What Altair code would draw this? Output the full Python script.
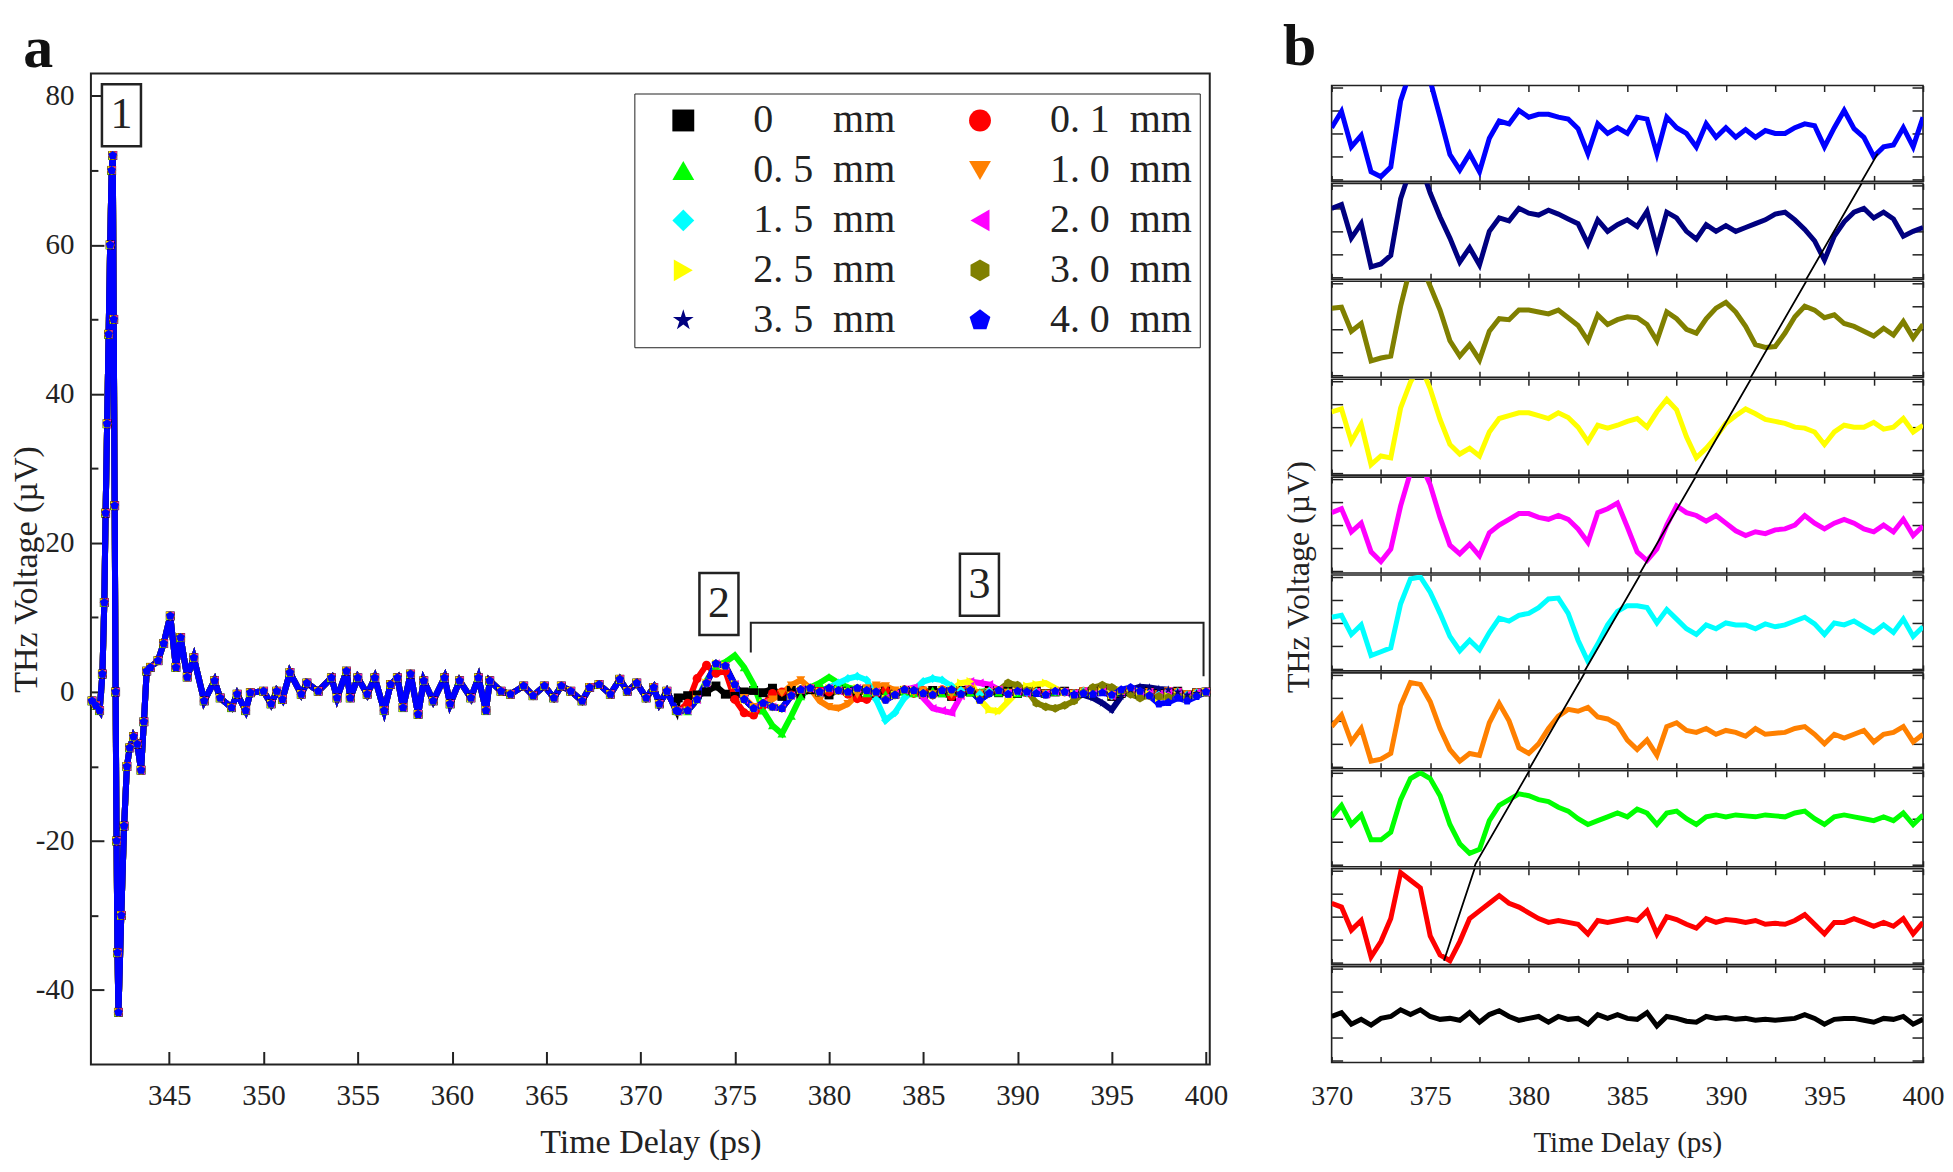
import altair as alt
import pandas as pd

FONT = "Liberation Serif"
INK = "#222222"

# ---------------- series definitions ----------------
LABELS = ["0\u00a0\u00a0\u00a0\u00a0\u00a0\u00a0mm", "0.\u00a01\u00a0\u00a0mm", "0.\u00a05\u00a0\u00a0mm",
          "1.\u00a00\u00a0\u00a0mm", "1.\u00a05\u00a0\u00a0mm", "2.\u00a00\u00a0\u00a0mm",
          "2.\u00a05\u00a0\u00a0mm", "3.\u00a00\u00a0\u00a0mm", "3.\u00a05\u00a0\u00a0mm",
          "4.\u00a00\u00a0\u00a0mm"]
COLORS = ["#000000", "#ff0000", "#00ff00", "#ff8000", "#00ffff",
          "#ff00ff", "#ffff00", "#808000", "#000080", "#0000ff"]
HEX = "M0,-1L0.866,-0.5L0.866,0.5L0,1L-0.866,0.5L-0.866,-0.5Z"
STAR = ("M0,-1L0.223,-0.307L0.951,-0.309L0.361,0.117L0.588,0.809L0,0.38L-0.588,0.809"
        "L-0.361,0.117L-0.951,-0.309L-0.223,-0.307Z")
PENT = "M0,-1L0.951,-0.309L0.588,0.809L-0.588,0.809L-0.951,-0.309Z"
SHAPES = ["square", "circle", "triangle-up", "triangle-down", "diamond",
          "triangle-left", "triangle-right", HEX, STAR, PENT]
# legend fills column by column; this order makes it read row by row (0 | 0.1, 0.5 | 1.0, ...)
LEGEND_ORDER = [0, 2, 4, 6, 8, 1, 3, 5, 7, 9]

# ---------------- panel a data ----------------
T_MAIN = [340.9, 341.1, 341.3, 341.45, 341.55, 341.62, 341.7, 341.78, 341.86, 341.94, 342.0,
          342.05, 342.1, 342.15, 342.2, 342.25, 342.3, 342.45, 342.6, 342.75, 342.9, 343.1,
          343.3, 343.5, 343.65, 343.8, 344.0, 344.4, 344.7, 345.05, 345.35, 345.6, 345.95,
          346.3, 346.85, 347.4, 347.7, 348.3, 348.6, 349.05, 349.3, 350.0, 350.4, 350.7,
          351.0, 351.4, 352.0, 352.3, 352.9, 353.6, 353.9, 354.4, 354.6, 355.0, 355.5,
          355.9, 356.4, 356.74, 357.1, 357.4, 357.8, 358.2, 358.5, 359.0, 359.6, 359.9,
          360.4, 361.0, 361.4, 361.8, 362.0, 362.6, 363.1, 363.8, 364.3, 364.9, 365.4,
          365.8, 366.3, 366.9, 367.3, 367.8, 368.4, 368.9, 369.3, 369.8, 370.3, 370.7,
          371.0, 371.4, 371.9]
V_MAIN = [-1.2, -1.8, -2.5, 2.4, 12, 24, 36, 48, 60, 70, 72,
          50, 25, 0, -20, -35, -43, -30, -18, -10, -7.5, -6,
          -7, -10.5, -4, 2.8, 3.3, 4.2, 6.5, 10.2, 3.3, 7.3, 2.0,
          4.6, -1.2, 1.5, -0.8, -2.1, -0.3, -2.5, -0.1, 0.1, -1.6, 0.1,
          -1.0, 2.6, -0.3, 1.2, 0.1, 1.9, -0.8, 2.8, -0.8, 1.9, -0.3,
          1.9, -2.5, 1.0, 1.9, -2.1, 2.4, -3.0, 1.5, -1.2, 1.9, -1.6,
          1.5, -0.8, 1.9, -2.5, 1.5, 0.1, -0.3, 0.8, -0.5, 0.8, -0.8,
          0.8, 0.1, -1.2, 0.6, 1.0, -0.3, 1.7, 0.1, 1.2, -0.8, 0.6,
          -1.6, 0.1, -2.5]

T_ECHO = [372.0, 372.5, 373.0, 373.5, 374.0, 374.5, 375.0, 375.5, 376.0, 376.5,
          377.0, 377.5, 378.0, 378.5, 379.0, 379.5, 380.0, 380.5, 381.0, 381.5,
          382.0, 382.5, 383.0, 383.5, 384.0, 384.5, 385.0, 385.5, 386.0, 386.5,
          387.0, 387.5, 388.0, 388.5, 389.0, 389.5, 390.0, 390.5, 391.0, 391.5,
          392.0, 392.5, 393.0, 393.5, 394.0, 394.5, 395.0, 395.5, 396.0, 396.5,
          397.0, 397.5, 398.0, 398.5, 399.0, 399.5, 400.0]

E_BLACK = [-0.8, -0.5, -0.4, 0.0, 0.8, -0.3, -0.6, 0.0, 0.2, -0.1,
           0.5, -0.6, 0.2, -0.3, 0.3, 0.0, -0.4, 0.3, 0.1, -0.2,
           0.3, -0.2, 0.1, -0.3, 0.2, 0.0, -0.3, 0.2, -0.1, -0.6,
           0.2, 0.0, -0.3, 0.2, -0.1, 0.1, -0.2, 0.0, 0.1, -0.2,
           0.0, 0.1, -0.2, 0.0, 0.1, 0.3, -0.6, -0.2, 0.1, -0.3,
           0.1, -0.2, 0.0, 0.1, -0.4, -0.1, 0.0]
E_RED = [-2.6, -1.5, 1.8, 3.6, 2.5, 2.8, -1.0, -2.8, -3.1, -1.8,
         -0.2, 0.0, -0.4, 0.3, 0.5, 0.3, 0.0, 0.3, -0.3, -0.9,
         -1.0, -0.2, 0.2, -0.2, 0.3, -0.2, 0.2, -0.4, 0.3, -0.6,
         0.1, 0.3, -0.3, 0.0, 0.2, -0.2, 0.1, -0.1, 0.0, -0.3,
         0.1, 0.0, -0.2, 0.1, 0.0, 0.2, -0.5, -0.1, 0.2, -0.2,
         0.0, -0.3, 0.1, 0.0, -0.4, -0.1, 0.0]
E_GREEN = [-2.6, -2.6, -1.0, 1.5, 3.5, 4.0, 4.9, 3.3, 1.0, -2.5,
           -4.5, -5.6, -3.2, -0.6, 0.6, 1.2, 2.0, 1.2, 0.6, 0.3,
           -0.2, 0.1, -0.3, 0.2, 0.0, -0.2, 0.1, 0.2, -0.2, 0.0,
           0.2, -0.1, 0.0, 0.2, -0.1, 0.1, -0.2, 0.0, 0.1, -0.2,
           0.0, 0.1, -0.2, 0.0, 0.1, 0.2, -0.4, -0.1, 0.1, -0.2,
           0.1, -0.2, 0.0, 0.1, -0.3, -0.1, 0.0]
E_ORANGE = [-2.6, -2.5, -1.0, 1.2, 3.6, 3.5, 1.0, -0.8, -2.0, -1.6,
            -1.0, -0.2, 0.9, 1.6, 0.5, -1.2, -2.0, -2.2, -1.6, -0.4,
            0.5, 0.9, 0.8, 0.2, 0.1, -0.2, 0.2, -0.3, 0.2, -0.4,
            0.1, 0.2, -0.2, 0.0, 0.2, -0.1, 0.1, 0.0, -0.1, -0.2,
            0.1, 0.0, -0.2, 0.1, 0.0, 0.2, -0.4, -0.1, 0.1, -0.2,
            0.0, -0.3, 0.1, 0.0, -0.3, -0.1, 0.0]
E_CYAN = [-2.6, -2.5, -1.0, 1.2, 3.8, 3.5, 1.0, -1.0, -2.2, -1.5,
          -2.0, -2.2, -0.5, 0.3, 0.5, 0.0, 0.6, 1.2, 1.8, 2.1,
          1.6, -1.0, -3.8, -2.8, -0.8, 0.3, 1.4, 1.8, 1.6, 0.8,
          0.2, 0.3, -0.3, 0.1, 0.2, -0.2, 0.1, -0.1, 0.0, -0.3,
          0.1, 0.0, -0.2, 0.1, 0.0, 0.2, -0.5, -0.1, 0.2, -0.2,
          0.0, -0.3, 0.1, 0.0, -0.4, -0.1, 0.0]
E_MAGENTA = [-2.6, -2.5, -1.0, 1.2, 3.8, 3.5, 1.0, -1.0, -2.2, -1.5,
             -2.0, -2.2, -0.5, 0.3, 0.5, 0.0, 0.5, 0.2, 0.0, 0.5,
             0.2, 0.0, -0.8, -0.3, 0.3, 0.6, -0.8, -2.2, -2.5, -2.8,
             -0.5, 1.4, 1.2, 1.0, 0.3, -0.2, 0.1, -0.1, 0.0, -0.3,
             0.1, 0.0, -0.2, 0.1, 0.0, 0.2, -0.5, -0.1, 0.2, -0.2,
             0.0, -0.3, 0.1, 0.0, -0.4, -0.1, 0.0]
E_YELLOW = [-2.6, -2.5, -1.0, 1.2, 3.8, 3.5, 1.0, -1.0, -2.2, -1.5,
            -2.0, -2.2, -0.5, 0.3, 0.5, 0.0, 0.5, 0.2, 0.0, 0.5,
            0.2, 0.0, -0.9, -0.4, 0.3, 0.2, -0.2, -0.4, 0.2, 0.3,
            1.2, 1.4, -1.0, -2.4, -2.6, -1.3, 0.0, 0.8, 1.0, 1.2,
            0.5, 0.0, -0.3, -0.1, -0.2, 0.1, -0.4, 0.2, 0.4, 0.0,
            -0.3, -0.8, -0.6, -0.4, -0.8, -0.4, 0.0]
E_OLIVE = [-2.6, -2.5, -1.0, 1.2, 3.8, 3.5, 1.0, -1.0, -2.2, -1.5,
           -2.0, -2.2, -0.5, 0.3, 0.5, 0.0, 0.5, 0.2, 0.0, 0.5,
           0.2, 0.0, -1.0, -0.4, 0.3, 0.2, -0.2, -0.4, 0.2, 0.3,
           -0.3, 0.2, -1.0, -0.2, 0.2, 1.2, 0.9, 0.2, -1.5, -2.0,
           -2.2, -1.8, -1.2, -0.1, 0.6, 0.9, 0.6, 0.1, -0.3, -0.8,
           -0.5, -0.6, -0.7, -0.5, -0.8, -0.4, 0.0]
E_NAVY = [-2.6, -2.5, -1.0, 1.2, 3.8, 3.5, 1.0, -1.0, -2.2, -1.5,
          -2.0, -2.2, -0.5, 0.3, 0.5, 0.0, 0.5, 0.2, 0.0, 0.5,
          0.2, 0.0, -1.0, -0.4, 0.3, 0.2, -0.2, -0.4, 0.2, 0.3,
          -0.3, 0.2, -1.0, -0.2, 0.2, -0.3, 0.1, 0.0, -0.2, -0.4,
          0.1, 0.0, -0.2, -0.4, -0.8, -1.5, -2.4, -0.6, 0.3, 0.7,
          0.6, 0.4, 0.3, 0.0, -0.4, -0.2, 0.0]
E_BLUE = [-2.6, -2.5, -1.0, 1.2, 3.8, 3.5, 1.0, -1.0, -2.2, -1.5,
          -2.0, -2.2, -0.5, 0.3, 0.5, 0.0, 0.5, 0.2, 0.0, 0.5,
          0.2, 0.0, -1.1, -0.4, 0.3, 0.2, -0.2, -0.4, 0.2, 0.3,
          -0.3, 0.2, -1.1, -0.2, 0.2, -0.3, 0.1, 0.0, -0.2, -0.4,
          0.1, 0.0, -0.4, -0.2, -0.3, -0.1, -0.4, 0.3, 0.6, 0.1,
          -0.5, -1.6, -1.4, -0.8, -1.2, -0.6, 0.0]
ECHO = [E_BLACK, E_RED, E_GREEN, E_ORANGE, E_CYAN, E_MAGENTA, E_YELLOW, E_OLIVE, E_NAVY, E_BLUE]

BOX_X = [342.46, 374.16, 387.98]
BOX_Y = [77.4, 11.8, 14.4]
BOX_TXT = ["1", "2", "3"]
BRACKET_X = [375.85, 375.85, 399.87, 399.87]
BRACKET_Y = [5.3, 9.3, 9.3, 2.1]

# ---------------- panel b data ----------------
T_B = [370.0, 370.5, 371.0, 371.5, 372.0, 372.5, 373.0, 373.5, 374.0, 374.5,
       375.0, 375.5, 376.0, 376.5, 377.0, 377.5, 378.0, 378.5, 379.0, 379.5,
       380.0, 380.5, 381.0, 381.5, 382.0, 382.5, 383.0, 383.5, 384.0, 384.5,
       385.0, 385.5, 386.0, 386.5, 387.0, 387.5, 388.0, 388.5, 389.0, 389.5,
       390.0, 390.5, 391.0, 391.5, 392.0, 392.5, 393.0, 393.5, 394.0, 394.5,
       395.0, 395.5, 396.0, 396.5, 397.0, 397.5, 398.0, 398.5, 399.0, 399.5, 400.0]
B_BLACK = [4.8, 5.2, 4.0, 4.5, 3.9, 4.6, 4.8, 5.5, 5.0, 5.5,
           4.8, 4.5, 4.6, 4.4, 5.2, 4.2, 5.0, 5.4, 4.8, 4.4,
           4.6, 4.8, 4.2, 4.8, 4.5, 4.6, 4.0, 5.0, 4.6, 5.0,
           4.6, 4.5, 5.2, 3.8, 4.8, 4.6, 4.3, 4.2, 4.8, 4.6,
           4.7, 4.5, 4.6, 4.4, 4.5, 4.4, 4.5, 4.6, 5.0, 4.6,
           4.0, 4.5, 4.6, 4.6, 4.4, 4.2, 4.6, 4.5, 4.8, 4.0, 4.5]
B_RED = [6.4, 6.0, 3.6, 4.6, 0.8, 2.4, 4.8, 9.6, 8.8, 8.0,
         3.0, 1.0, 0.4, 2.4, 4.8, 5.6, 6.4, 7.2, 6.4, 6.0,
         5.4, 4.8, 4.4, 4.6, 4.4, 4.2, 3.2, 4.6, 4.4, 4.6,
         4.8, 4.6, 5.6, 3.2, 5.0, 4.7, 4.2, 3.8, 4.8, 4.4,
         4.7, 4.6, 4.4, 4.6, 4.2, 4.3, 4.2, 4.6, 5.2, 4.2,
         3.2, 4.4, 4.4, 4.8, 4.4, 4.0, 4.4, 4.0, 4.8, 3.2, 4.4]
B_GREEN = [5.2, 6.4, 4.4, 5.4, 2.8, 2.8, 3.6, 7.0, 9.2, 9.8,
           9.2, 7.4, 4.4, 2.4, 1.4, 1.8, 4.8, 6.4, 7.0, 7.6,
           7.4, 7.0, 6.8, 6.2, 5.8, 5.0, 4.4, 4.8, 5.2, 5.6,
           5.2, 6.0, 5.6, 4.4, 5.6, 5.8, 5.0, 4.4, 5.2, 5.4,
           5.2, 5.4, 5.3, 5.2, 5.4, 5.3, 5.2, 5.6, 5.8, 5.0,
           4.4, 5.2, 5.4, 5.2, 5.0, 4.8, 5.2, 4.8, 5.6, 4.4, 5.4]
B_ORANGE = [4.4, 5.6, 2.8, 4.2, 0.8, 1.0, 1.6, 6.6, 9.0, 8.8,
            7.0, 4.2, 2.0, 0.8, 1.6, 1.4, 4.8, 6.8, 5.0, 2.2,
            1.6, 2.6, 4.2, 5.5, 6.2, 6.0, 6.4, 5.4, 5.2, 4.6,
            3.0, 2.0, 3.0, 1.4, 4.4, 4.8, 4.0, 3.8, 4.2, 3.6,
            4.0, 3.8, 3.4, 4.2, 3.6, 3.7, 3.8, 4.2, 4.4, 3.6,
            2.6, 3.6, 3.2, 3.6, 4.0, 2.8, 3.6, 3.8, 4.4, 2.8, 3.6]
B_CYAN = [5.6, 5.8, 3.8, 4.8, 1.6, 2.0, 2.4, 7.0, 9.6, 9.8,
          8.2, 6.0, 3.6, 2.1, 3.2, 2.2, 4.0, 5.5, 5.2, 5.8,
          6.0, 6.6, 7.5, 7.6, 6.0, 3.2, 1.0, 2.8, 4.8, 6.2,
          6.8, 6.8, 6.6, 5.0, 6.4, 5.4, 4.4, 3.8, 4.8, 4.4,
          5.0, 4.8, 4.8, 4.4, 4.9, 4.6, 4.8, 5.2, 5.6, 4.9,
          3.8, 5.0, 4.8, 5.2, 4.6, 4.0, 4.8, 4.0, 5.4, 3.6, 4.6]
B_MAGENTA = [6.3, 6.7, 4.3, 5.2, 2.2, 1.2, 2.5, 7.0, 10.5, 11.5,
             9.2, 5.8, 2.9, 2.0, 3.0, 1.8, 4.2, 5.0, 5.6, 6.2,
             6.2, 5.8, 5.6, 6.0, 5.6, 4.6, 3.2, 6.3, 6.7, 7.3,
             4.8, 2.2, 1.3, 2.5, 5.0, 7.0, 6.3, 6.0, 5.4, 6.0,
             5.2, 4.4, 3.9, 4.3, 4.1, 4.5, 4.6, 5.0, 6.0, 5.2,
             4.6, 5.2, 5.6, 5.2, 4.6, 4.3, 5.0, 4.3, 5.6, 3.9, 4.9]
B_YELLOW = [6.6, 6.9, 3.5, 5.3, 1.1, 2.0, 1.8, 7.0, 9.7, 11.5,
            9.0, 5.8, 3.2, 2.2, 2.8, 2.0, 4.5, 5.9, 6.2, 6.5,
            6.5, 6.2, 5.9, 6.5, 6.0, 5.0, 3.5, 5.2, 4.9, 5.2,
            5.6, 5.9, 5.0, 6.6, 7.9, 6.8, 4.0, 1.8, 2.8, 4.0,
            5.4, 6.2, 6.9, 6.4, 5.8, 5.6, 5.4, 5.0, 4.9, 4.5,
            3.2, 4.5, 5.2, 5.0, 5.0, 5.5, 4.8, 5.0, 5.9, 4.5, 5.2]
B_OLIVE = [7.2, 7.3, 4.8, 5.6, 1.7, 2.0, 2.2, 7.4, 11.5, 12.0,
           9.5, 7.0, 3.8, 2.2, 3.4, 1.8, 4.8, 6.1, 6.0, 7.0,
           7.0, 6.8, 6.6, 7.0, 6.2, 5.4, 3.8, 6.5, 5.5, 6.0,
           6.3, 6.2, 5.5, 3.8, 6.8, 6.1, 5.0, 4.6, 6.1, 7.2,
           7.8, 6.8, 5.3, 3.4, 3.1, 3.2, 4.6, 6.3, 7.4, 7.0,
           6.2, 6.5, 5.6, 5.3, 4.8, 4.3, 5.1, 4.4, 5.8, 4.1, 5.5]
B_NAVY = [7.4, 7.8, 4.3, 5.8, 1.3, 1.6, 2.5, 8.4, 11.5, 12.0,
          9.0, 6.5, 4.3, 1.8, 3.3, 1.5, 5.0, 6.4, 6.1, 7.4,
          6.9, 6.7, 7.2, 6.8, 6.3, 5.8, 3.7, 6.2, 5.0, 5.7,
          6.2, 5.5, 7.1, 3.3, 7.0, 6.4, 5.0, 4.2, 5.7, 5.0,
          5.6, 5.0, 5.4, 5.8, 6.2, 6.8, 7.0, 6.2, 5.2, 4.0,
          2.0, 4.5, 6.0, 7.0, 7.4, 6.4, 7.0, 6.3, 4.5, 5.0, 5.4]
B_BLUE = [5.6, 7.3, 3.6, 4.8, 1.0, 0.5, 1.5, 8.4, 11.5, 12.0,
          10.5, 6.7, 2.8, 1.2, 2.9, 1.0, 4.5, 6.3, 6.0, 7.4,
          6.7, 7.0, 7.0, 6.7, 6.5, 5.5, 2.9, 6.0, 5.0, 5.6,
          5.0, 6.7, 6.5, 2.9, 6.7, 5.6, 5.0, 3.6, 6.0, 4.6,
          5.6, 4.6, 5.4, 4.6, 5.3, 5.0, 5.0, 5.6, 6.0, 5.8,
          3.6, 5.6, 7.4, 5.5, 4.6, 2.6, 3.6, 3.8, 5.6, 3.6, 6.7]
BTRACES = [B_BLACK, B_RED, B_GREEN, B_ORANGE, B_CYAN, B_MAGENTA, B_YELLOW, B_OLIVE, B_NAVY, B_BLUE]
DIAG_T = [375.7, 377.3, 397.7]
DIAG_G = [10.4, 20.3, 92.9]   # stacked-band coordinate (10 units per band)

XT_A = [345, 350, 355, 360, 365, 370, 375, 380, 385, 390, 395, 400]
YT_A = [-40, -20, 0, 20, 40, 60, 80]
YT_A_MINOR = [-30, -10, 10, 30, 50, 70]
XT_B = [370, 372.5, 375, 377.5, 380, 382.5, 385, 387.5, 390, 392.5, 395, 397.5, 400]
YT_B = [0.2, 2.6, 5.0, 7.4, 9.8]

VIEW = alt.ViewBackground(stroke=INK, strokeWidth=2, fill="white")
VIEW_B = alt.ViewBackground(stroke=INK, strokeWidth=1.6, fill="white")

# ---------------- panel a ----------------
rows = []
for k, lab in enumerate(LABELS):
    for t, v in zip(T_MAIN, V_MAIN):
        rows.append((lab, k, t, v))
    for t, v in zip(T_ECHO, ECHO[k]):
        rows.append((lab, k, t, v))
dfa = pd.DataFrame(rows, columns=["series", "order", "t", "v"])

xsa = alt.Scale(domain=[340.84, 400.2], nice=False, zero=False)
ysa = alt.Scale(domain=[-50, 83], nice=False, zero=False)
color_scale = alt.Scale(domain=[LABELS[i] for i in LEGEND_ORDER], range=[COLORS[i] for i in LEGEND_ORDER])
shape_scale = alt.Scale(domain=[LABELS[i] for i in LEGEND_ORDER], range=[SHAPES[i] for i in LEGEND_ORDER])

x_axis_a = alt.Axis(orient="bottom", values=XT_A, offset=-13, tickSize=13, tickWidth=2, tickColor=INK,
                    domain=False, grid=False, labelFont=FONT, labelFontSize=29, labelColor=INK,
                    labelPadding=17, labelFlush=False, title="Time Delay (ps)", titleFont=FONT,
                    titleFontSize=34, titleFontWeight="normal", titleColor=INK, titlePadding=15)
y_axis_a = alt.Axis(orient="left", values=YT_A, offset=-13, tickSize=13, tickWidth=2, tickColor=INK,
                    domain=False, grid=False, labelFont=FONT, labelFontSize=29, labelColor=INK,
                    labelPadding=17, labelFlush=False,
                    labelExpr="replace(datum.label, '\u2212', '-')",
                    title="THz Voltage (\u00b5V)", titleFont=FONT,
                    titleFontSize=34, titleFontWeight="normal", titleColor=INK, titlePadding=-8)
y_axis_minor = alt.Axis(orient="left", values=YT_A_MINOR, offset=-7, tickSize=7, tickWidth=2,
                        tickColor=INK, domain=False, grid=False, labels=False, title=None)

legend = alt.Legend(title=None, orient="none", legendX=544, legendY=20, columns=2,
                    symbolSize=480, symbolStrokeWidth=0, symbolOffset=22,
                    labelFont=FONT, labelFontSize=40, labelColor=INK, labelOffset=50,
                    padding=7, rowPadding=10, columnPadding=42,
                    strokeColor=INK, fillColor="white")

base_a = alt.Chart(dfa)
lines_a = base_a.mark_line(strokeWidth=6).encode(
    x=alt.X("t:Q", scale=xsa, axis=x_axis_a),
    y=alt.Y("v:Q", scale=ysa, axis=y_axis_a),
    color=alt.Color("series:N", scale=color_scale, legend=None),
)
points_a = base_a.mark_point(filled=True, size=80, opacity=1).encode(
    x=alt.X("t:Q", scale=xsa, axis=None),
    y=alt.Y("v:Q", scale=ysa, axis=None),
    color=alt.Color("series:N", scale=color_scale, legend=legend),
    shape=alt.Shape("series:N", scale=shape_scale, legend=legend),
    order=alt.Order("order:Q"),
)
df_br = pd.DataFrame({"x": BRACKET_X, "y": BRACKET_Y, "i": list(range(len(BRACKET_X)))})
bracket = alt.Chart(df_br).mark_line(color=INK, strokeWidth=2).encode(
    x=alt.X("x:Q", scale=xsa, axis=None),
    y=alt.Y("y:Q", scale=ysa, axis=y_axis_minor),
    order=alt.Order("i:Q"),
)
df_box = pd.DataFrame({"x": BOX_X, "y": BOX_Y, "txt": BOX_TXT})
RECT = "M-0.63,-1L0.63,-1L0.63,1L-0.63,1Z"
boxes = alt.Chart(df_box).mark_point(shape=RECT, size=3844, filled=True, fill="white",
                                     stroke=INK, strokeWidth=2.5, opacity=1).encode(
    x=alt.X("x:Q", scale=xsa, axis=None),
    y=alt.Y("y:Q", scale=ysa, axis=None),
)
texts = alt.Chart(df_box).mark_text(font=FONT, fontSize=44, color=INK, align="center",
                                    baseline="middle").encode(
    x=alt.X("x:Q", scale=xsa, axis=None),
    y=alt.Y("y:Q", scale=ysa, axis=None),
    text="txt:N",
)

panel_a = alt.layer(lines_a, points_a, bracket, boxes, texts).resolve_axis(
    x="independent", y="independent"
).resolve_legend(
    color="independent", shape="independent"
).properties(
    width=1120, height=992, view=VIEW,
    title=alt.TitleParams("a", anchor="start", font=FONT, fontSize=60, fontWeight="bold",
                          color="#111111", offset=-6, dx=14),
)

# ---------------- panel b ----------------
xsb = alt.Scale(domain=[370, 400], nice=False, zero=False)
ysb = alt.Scale(domain=[0, 10], nice=False, zero=False)
df_diag = pd.DataFrame({"t": DIAG_T, "g": DIAG_G})
B_WIDTH = 592


def band(k):
    is_bottom = (k == 0)
    d = pd.DataFrame({"t": T_B, "v": BTRACES[k]})
    xb_kwargs = dict(orient="bottom", values=XT_B, offset=-6, tickSize=6, tickWidth=1.5,
                     tickColor=INK, domain=False, grid=False, labelFlush=False)
    if is_bottom:
        xb_kwargs.update(labels=True, labelExpr="datum.value % 5 == 0 ? datum.label : ''",
                         labelFont=FONT, labelFontSize=28, labelColor=INK, labelPadding=20,
                         title="Time Delay (ps)", titleFont=FONT, titleFontSize=29,
                         titleFontWeight="normal", titleColor=INK, titlePadding=18)
    else:
        xb_kwargs.update(labels=False, title=None)
    x_bot = alt.Axis(**xb_kwargs)
    x_top = alt.Axis(orient="top", values=XT_B, offset=-6, tickSize=6, tickWidth=1.5,
                     tickColor=INK, domain=False, grid=False, labels=False, title=None)
    y_left = alt.Axis(orient="left", values=YT_B, offset=-11, tickSize=11, tickWidth=1.5,
                      tickColor=INK, domain=False, grid=False, labels=False, title=None)
    y_right = alt.Axis(orient="right", values=YT_B, offset=-11, tickSize=11, tickWidth=1.5,
                       tickColor=INK, domain=False, grid=False, labels=False, title=None)
    trace = alt.Chart(d).mark_line(color=COLORS[k], strokeWidth=5, clip=True).encode(
        x=alt.X("t:Q", scale=xsb, axis=x_bot),
        y=alt.Y("v:Q", scale=ysb, axis=y_left),
    )
    diag = alt.Chart(df_diag).transform_calculate(
        v=f"datum.g - {10 * k}"
    ).mark_line(color="black", strokeWidth=1.8, clip=True).encode(
        x=alt.X("t:Q", scale=xsb, axis=x_top),
        y=alt.Y("v:Q", scale=ysb, axis=y_right),
    )
    return alt.layer(trace, diag).resolve_axis(x="independent", y="independent").properties(
        width=B_WIDTH, height=96, view=VIEW_B)


bands = alt.vconcat(*[band(k) for k in range(9, -1, -1)], spacing=-3).properties(
    title=alt.TitleParams("THz Voltage (\u00b5V)", orient="left", anchor="middle", font=FONT,
                          fontSize=32, fontWeight="normal", color=INK, offset=-6, dx=44)
)
spacer = alt.Chart(pd.DataFrame({"s": [0]})).mark_point(opacity=0).encode(
    x=alt.value(0), y=alt.value(0)
).properties(width=B_WIDTH, height=9,
             view=alt.ViewBackground(stroke="transparent", fill="transparent"))
panel_b = alt.vconcat(spacer, bands, spacing=0).properties(
    title=alt.TitleParams("b", anchor="start", font=FONT, fontSize=60, fontWeight="bold",
                          color="#111111", offset=-8)
)

chart = alt.hconcat(panel_a, panel_b, spacing=54).properties(
    padding={"left": 0, "top": 8, "right": 0, "bottom": 0}
).configure_view(stroke=INK, strokeWidth=2).configure(background="white")

chart.save("out.html", embed_options={"renderer": "svg", "actions": False})
